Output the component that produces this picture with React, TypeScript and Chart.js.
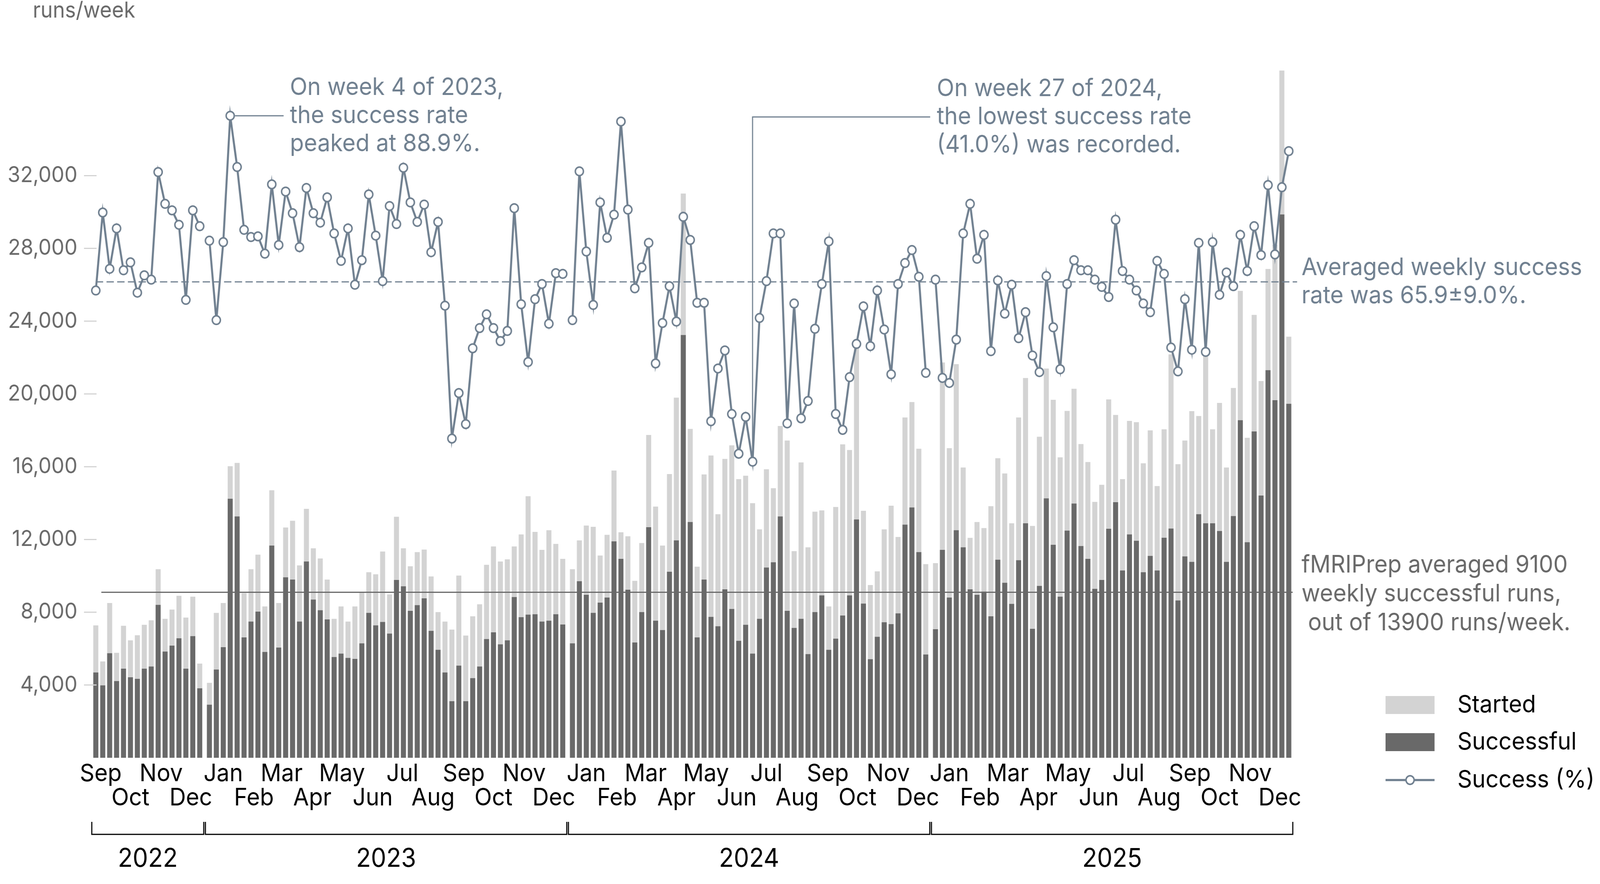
import React, { useEffect, useRef } from 'react';
import { Chart, registerables } from 'chart.js';

Chart.register(...registerables);

// ---------------- data (weekly fMRIPrep runs) ----------------
const YEARS = [2022, 2023, 2024, 2025];
const FIRST_WEEK = [37, 1, 1, 1];

const STARTED_2022 = [7270, 5290, 8500, 5760, 7250, 6450, 6730, 7300, 7550, 10360, 7630, 8140, 8900, 7700, 8850, 5170];
const SUCCESSFUL_2022 = [4680, 3970, 5740, 4210, 4890, 4420, 4330, 4890, 5010, 8400, 5830, 6160, 6560, 4890, 6680, 3810];
const SUCCESS_PCT_2022 = [64.7, 75.5, 67.7, 73.3, 67.5, 68.6, 64.4, 66.8, 66.2, 81.1, 76.7, 75.8, 73.8, 63.4, 75.8, 73.6];

const STARTED_2023 = [4110, 7960, 8500, 16020, 16200, 9040, 10360, 11160, 8310, 14700, 8500, 12650, 13020, 10570, 13680, 11510, 10950, 9790, 7630, 8310, 7480, 8310, 9060, 10190, 10080, 11330, 8970, 13240, 11510, 10520, 11300, 11440, 9960, 8000, 7480, 7040, 10010, 6710, 7770, 8430, 10600, 11610, 10780, 10900, 11610, 12270, 14370, 12410, 11420, 12500, 11750, 10930];
const SUCCESSFUL_2023 = [2910, 4840, 6070, 14230, 13260, 6610, 7480, 8030, 5810, 11660, 6050, 9910, 9790, 7480, 10780, 8690, 8100, 7600, 5530, 5720, 5480, 5430, 6280, 7960, 7270, 7460, 6820, 9770, 9420, 8070, 8380, 8760, 6970, 5930, 4680, 3100, 5060, 3100, 4370, 5010, 6520, 6890, 6230, 6450, 8830, 7720, 7860, 7880, 7480, 7530, 7880, 7320];
const SUCCESS_PCT_2023 = [71.6, 60.6, 71.4, 88.9, 81.8, 73.1, 72.1, 72.2, 69.8, 79.4, 71.0, 78.4, 75.4, 70.7, 78.9, 75.4, 74.1, 77.6, 72.6, 68.8, 73.3, 65.5, 68.9, 78.0, 72.3, 66.0, 76.4, 73.9, 81.7, 76.9, 74.2, 76.6, 70.0, 74.2, 62.6, 44.2, 50.5, 46.2, 56.7, 59.5, 61.4, 59.5, 57.7, 59.1, 76.1, 62.8, 54.8, 63.5, 65.6, 60.1, 67.1, 67.0];

const STARTED_2024 = [10360, 11940, 12760, 12690, 11110, 12250, 15780, 12390, 12170, 9720, 11800, 17740, 13800, 11660, 15590, 19790, 31010, 18070, 10500, 15570, 16610, 13380, 16420, 17170, 15310, 15500, 13990, 12550, 15850, 14810, 18230, 17430, 11350, 16230, 11560, 13520, 13590, 8310, 13780, 17220, 16910, 22550, 13570, 9490, 10240, 12550, 13850, 12130, 18700, 19550, 16980, 10640];
const SUCCESSFUL_2024 = [6280, 9700, 8950, 7960, 8520, 8800, 11890, 10930, 9230, 6330, 8000, 12670, 7530, 7010, 10220, 11940, 23230, 12950, 6610, 9790, 7740, 7220, 9250, 8170, 6420, 7300, 5720, 7630, 10450, 10740, 13260, 8070, 7130, 7630, 5690, 8000, 8920, 5930, 6540, 7810, 8920, 13090, 8470, 5410, 6640, 7440, 7340, 7930, 12810, 13750, 11300, 5670];
const SUCCESS_PCT_2024 = [60.6, 81.2, 70.1, 62.7, 76.9, 72.0, 75.2, 88.1, 75.9, 65.0, 67.9, 71.3, 54.6, 60.2, 65.3, 60.4, 74.9, 71.7, 63.0, 63.0, 46.6, 53.9, 56.4, 47.6, 42.1, 47.2, 41.0, 60.9, 66.0, 72.6, 72.6, 46.3, 62.9, 47.0, 49.4, 59.4, 65.6, 71.5, 47.6, 45.4, 52.7, 57.3, 62.5, 57.0, 64.7, 59.3, 53.1, 65.6, 68.5, 70.3, 66.6, 53.3];

const STARTED_2025 = [10690, 21720, 17010, 21630, 15950, 12080, 12950, 12620, 13820, 16460, 15620, 12880, 18700, 20870, 12740, 17640, 21390, 19670, 16510, 19060, 20280, 17240, 16250, 14060, 15000, 19690, 18840, 15310, 18510, 18440, 16180, 17990, 14930, 18050, 22170, 16130, 17430, 19050, 18780, 22170, 18050, 19500, 15950, 20320, 25660, 17580, 24340, 20700, 26860, 28190, 37770, 23140];
const SUCCESSFUL_2025 = [7060, 11420, 8800, 12500, 11560, 9250, 8950, 9130, 7770, 10880, 9610, 8450, 10850, 12880, 7080, 9440, 14250, 11700, 8850, 12480, 13970, 11630, 10930, 9280, 9770, 12580, 14040, 10290, 12270, 11920, 10190, 11090, 10290, 12090, 12590, 8640, 11060, 10760, 13380, 12880, 12880, 12460, 10760, 13280, 18550, 11840, 17930, 14410, 21300, 19650, 29860, 19450];
const SUCCESS_PCT_2025 = [66.2, 52.6, 51.9, 57.9, 72.6, 76.7, 69.1, 72.4, 56.3, 66.1, 61.5, 65.5, 58.1, 61.7, 55.7, 53.4, 66.7, 59.6, 53.8, 65.6, 68.9, 67.5, 67.5, 66.2, 65.2, 63.8, 74.5, 67.4, 66.2, 64.7, 62.9, 61.7, 68.8, 67.0, 56.8, 53.5, 63.5, 56.5, 71.3, 56.2, 71.4, 64.1, 67.2, 65.3, 72.4, 67.4, 73.6, 69.6, 79.3, 69.7, 79.0, 84.0];

const STARTED = [STARTED_2022, STARTED_2023, STARTED_2024, STARTED_2025];
const SUCCESSFUL = [SUCCESSFUL_2022, SUCCESSFUL_2023, SUCCESSFUL_2024, SUCCESSFUL_2025];
const SUCCESS_PCT = [SUCCESS_PCT_2022, SUCCESS_PCT_2023, SUCCESS_PCT_2024, SUCCESS_PCT_2025];

const AVG_SUCCESS_PCT = 65.9;
const AVG_SUCCESSFUL_RUNS = 9100;
const Y_TICKS = [4000, 8000, 12000, 16000, 20000, 24000, 28000, 32000];
const MONTH_NAMES = ['Jan', 'Feb', 'Mar', 'Apr', 'May', 'Jun', 'Jul', 'Aug', 'Sep', 'Oct', 'Nov', 'Dec'];
const FIRST_MONTH = [8, 0, 0, 0];

const ANNOTATION_PEAK = { year: 2023, week: 4, lines: ['On week 4 of 2023,', 'the success rate', 'peaked at 88.9%.'] };
const ANNOTATION_LOW = { year: 2024, week: 27, lines: ['On week 27 of 2024,', 'the lowest success rate', '(41.0%) was recorded.'] };
const AVG_SUCCESS_TEXT = ['Averaged weekly success', 'rate was 65.9\u00b19.0%.'];
const AVG_RUNS_TEXT = ['fMRIPrep averaged 9100', 'weekly successful runs,', ' out of 13900 runs/week.'];
const LEGEND_LABELS = ['Started', 'Successful', 'Success (%)'];

// ---------------- styling / layout ----------------
const CANVAS_W = 4342;
const CANVAS_H = 2262;
const SLATE = '#708090';
const DIM = '#696969';
const LIGHT = '#D3D3D3';
const FONT = 'Inter, "Noto Sans", "DejaVu Sans", sans-serif';
const YEAR_STRIDE = 52.4; // weeks per year on the axis (includes the small gap between years)
const Y_MAX = 39700;
const LINE_W = 5.5;
const POINT_R = 11;
const POINT_BW = 4;

const weekX = (yi: number, week: number) => (YEARS[yi] - 2023) * YEAR_STRIDE + (week - 1);

const dayOfYear = (y: number, m: number, d: number) =>
  (Date.UTC(y, m, d) - Date.UTC(y, 0, 1)) / 86400000;

const MONTH_TICKS: { x: number; lines: string[] }[] = [];
YEARS.forEach((y, yi) => {
  for (let m = FIRST_MONTH[yi]; m < 12; m++) {
    MONTH_TICKS.push({
      x: (y - 2023) * YEAR_STRIDE + dayOfYear(y, m, 15) / 7,
      lines: m % 2 === 0 ? [MONTH_NAMES[m]] : ['', MONTH_NAMES[m]],
    });
  }
});

function buildSeries() {
  const started: any[] = [];
  const successful: any[] = [];
  const pct: any[] = [];
  YEARS.forEach((_, yi) => {
    STARTED[yi].forEach((v, i) => {
      const x = weekX(yi, FIRST_WEEK[yi] + i);
      started.push({ x, y: v });
      successful.push({ x, y: SUCCESSFUL[yi][i] });
      pct.push({ x, y: SUCCESS_PCT[yi][i] });
    });
    if (yi < YEARS.length - 1) {
      const lastX = weekX(yi, FIRST_WEEK[yi] + STARTED[yi].length - 1);
      pct.push({ x: lastX + 0.7, y: null });
    }
  });
  return { started, successful, pct };
}

const FIRST_X = weekX(0, FIRST_WEEK[0]);

function drawLines(ctx: CanvasRenderingContext2D, lines: string[], x: number, yMid: number, lh: number) {
  const n = lines.length;
  lines.forEach((t, i) => {
    ctx.fillText(t, x, yMid + (i - (n - 1) / 2) * lh);
  });
}

const overlay = {
  id: 'overlay',
  afterDatasetDraw(chart: any, args: any) {
    if (args.index !== 1) return;
    const { ctx, chartArea, scales } = chart;
    const x0 = scales.x.getPixelForValue(FIRST_X);
    ctx.save();
    const ya = scales.yp.getPixelForValue(AVG_SUCCESS_PCT);
    ctx.strokeStyle = SLATE;
    ctx.lineWidth = 3;
    ctx.setLineDash([20, 9]);
    ctx.beginPath();
    ctx.moveTo(x0, ya);
    ctx.lineTo(chartArea.right, ya);
    ctx.stroke();
    ctx.setLineDash([]);
    const ys = scales.y.getPixelForValue(AVG_SUCCESSFUL_RUNS);
    ctx.strokeStyle = DIM;
    ctx.beginPath();
    ctx.moveTo(x0 + 15, ys);
    ctx.lineTo(chartArea.right - 12, ys);
    ctx.stroke();
    ctx.restore();
  },
  afterDraw(chart: any) {
    const { ctx, chartArea, scales } = chart;
    const xs = scales.x, ys = scales.y, yp = scales.yp;
    ctx.save();

    // inward y tick marks
    ctx.strokeStyle = LIGHT;
    ctx.lineWidth = 3;
    Y_TICKS.forEach((v) => {
      const y = ys.getPixelForValue(v);
      ctx.beginPath();
      ctx.moveTo(chartArea.left, y);
      ctx.lineTo(chartArea.left + 34, y);
      ctx.stroke();
    });

    // axis unit
    ctx.fillStyle = DIM;
    ctx.font = `56px ${FONT}`;
    ctx.textAlign = 'left';
    ctx.textBaseline = 'alphabetic';
    ctx.fillText('runs/week', 89, 45);

    // annotation: peak
    ctx.font = `62px ${FONT}`;
    ctx.textBaseline = 'middle';
    ctx.strokeStyle = SLATE;
    ctx.fillStyle = SLATE;
    ctx.lineWidth = 3;
    const yiP = YEARS.indexOf(ANNOTATION_PEAK.year);
    const peakY = yp.getPixelForValue(SUCCESS_PCT[yiP][ANNOTATION_PEAK.week - FIRST_WEEK[yiP]]);
    {
      const px = xs.getPixelForValue(weekX(yiP, ANNOTATION_PEAK.week));
      ctx.beginPath();
      ctx.moveTo(px + 13, peakY);
      ctx.lineTo(px + 145, peakY);
      ctx.stroke();
      drawLines(ctx, ANNOTATION_PEAK.lines, px + 162, peakY, 72);
    }
    // annotation: lowest
    {
      const level = peakY + 3;
      const yi = YEARS.indexOf(ANNOTATION_LOW.year);
      const px = xs.getPixelForValue(weekX(yi, ANNOTATION_LOW.week));
      const py = yp.getPixelForValue(SUCCESS_PCT[yi][ANNOTATION_LOW.week - FIRST_WEEK[yi]]);
      ctx.beginPath();
      ctx.moveTo(px, py - 13);
      ctx.lineTo(px, level);
      ctx.lineTo(px + 482, level);
      ctx.stroke();
      drawLines(ctx, ANNOTATION_LOW.lines, px + 500, level, 72);
    }

    // right-hand notes
    const tx = chartArea.right + 12;
    ctx.fillStyle = SLATE;
    drawLines(ctx, AVG_SUCCESS_TEXT, tx, yp.getPixelForValue(AVG_SUCCESS_PCT), 72);
    ctx.fillStyle = DIM;
    drawLines(ctx, AVG_RUNS_TEXT, tx, ys.getPixelForValue(AVG_SUCCESSFUL_RUNS) + 5, 74);

    // legend
    const lx = 3760, lw = 133, ltx = 3955;
    const rows = [1804, 1899, 1996];
    ctx.fillStyle = LIGHT;
    ctx.fillRect(lx, rows[0] - 23, lw, 46);
    ctx.fillStyle = DIM;
    ctx.fillRect(lx, rows[1] - 23, lw, 46);
    ctx.strokeStyle = SLATE;
    ctx.lineWidth = LINE_W;
    ctx.beginPath();
    ctx.moveTo(lx, rows[2]);
    ctx.lineTo(lx + lw, rows[2]);
    ctx.stroke();
    ctx.beginPath();
    ctx.arc(lx + lw / 2, rows[2], POINT_R, 0, Math.PI * 2);
    ctx.fillStyle = '#fff';
    ctx.fill();
    ctx.lineWidth = POINT_BW;
    ctx.stroke();
    ctx.fillStyle = '#000';
    ctx.font = `62px ${FONT}`;
    LEGEND_LABELS.forEach((t, i) => ctx.fillText(t, ltx, rows[i]));

    // year brackets
    ctx.strokeStyle = '#000';
    ctx.lineWidth = 3;
    ctx.fillStyle = '#000';
    ctx.font = `66px ${FONT}`;
    ctx.textAlign = 'center';
    const by = 2135;
    YEARS.forEach((y, yi) => {
      const a = xs.getPixelForValue(weekX(yi, FIRST_WEEK[yi]) - 0.58);
      const b = xs.getPixelForValue(weekX(yi, FIRST_WEEK[yi] + STARTED[yi].length - 1) + 0.58);
      ctx.beginPath();
      ctx.moveTo(a, by - 32);
      ctx.lineTo(a, by);
      ctx.lineTo(b, by);
      ctx.lineTo(b, by - 32);
      ctx.stroke();
      ctx.fillText(String(y), (a + b) / 2, 2198);
    });
    ctx.restore();
  },
};

export default function App() {
  const ref = useRef<HTMLCanvasElement | null>(null);
  useEffect(() => {
    if (!ref.current) return;
    const s = buildSeries();
    const chart = new Chart(ref.current, {
      type: 'bar',
      data: {
        datasets: [
          {
            type: 'bar',
            label: 'Started',
            data: s.started,
            backgroundColor: LIGHT,
            barThickness: 13,
            grouped: false,
            order: 3,
            yAxisID: 'y',
          } as any,
          {
            type: 'bar',
            label: 'Successful',
            data: s.successful,
            backgroundColor: DIM,
            barThickness: 13,
            grouped: false,
            order: 2,
            yAxisID: 'y',
          } as any,
          {
            type: 'line',
            label: 'Success (%)',
            data: s.pct,
            yAxisID: 'yp',
            borderColor: SLATE,
            borderWidth: LINE_W,
            pointRadius: POINT_R,
            pointBorderWidth: POINT_BW,
            pointBackgroundColor: '#fff',
            pointBorderColor: SLATE,
            spanGaps: false,
            tension: 0,
            order: 1,
          } as any,
        ],
      },
      options: {
        animation: false,
        responsive: false,
        devicePixelRatio: 1,
        layout: { padding: { left: 0, top: 91, right: 822, bottom: 0 } },
        plugins: { legend: { display: false }, tooltip: { enabled: false } },
        events: [],
        scales: {
          x: {
            type: 'linear',
            min: -18.1,
            max: 157.0,
            offset: false,
            grid: { display: false, drawTicks: false },
            border: { display: false },
            afterBuildTicks: (sc: any) => {
              sc.ticks = MONTH_TICKS.map((t) => ({ value: t.x }));
            },
            afterFit: (sc: any) => {
              sc.height = 323;
            },
            ticks: {
              autoSkip: false,
              maxRotation: 0,
              minRotation: 0,
              padding: 10,
              color: '#000',
              font: { family: FONT, size: 62, lineHeight: 1.0 },
              callback: (_v: any, i: number) => (MONTH_TICKS[i] ? MONTH_TICKS[i].lines : ''),
            },
          },
          y: {
            type: 'linear',
            position: 'left',
            min: 0,
            max: Y_MAX,
            grid: { display: false, drawTicks: false },
            border: { display: false },
            afterBuildTicks: (sc: any) => {
              sc.ticks = Y_TICKS.map((v) => ({ value: v }));
            },
            afterFit: (sc: any) => {
              sc.width = 228;
            },
            ticks: {
              padding: 18,
              color: DIM,
              font: { family: FONT, size: 56 },
              callback: (v: any) => Number(v).toLocaleString('en-US'),
            },
          },
          yp: { type: 'linear', display: false, min: 0, max: 100 },
        },
      } as any,
      plugins: [overlay],
    });
    return () => chart.destroy();
  }, []);
  return (
    <div style={{ position: 'fixed', left: 0, top: 0, width: '100vw', height: '100vh', background: '#fff', overflow: 'hidden' }}>
      <canvas
        ref={ref}
        width={CANVAS_W}
        height={CANVAS_H}
        style={{ display: 'block', width: '100%', height: '100%' }}
      />
    </div>
  );
}
